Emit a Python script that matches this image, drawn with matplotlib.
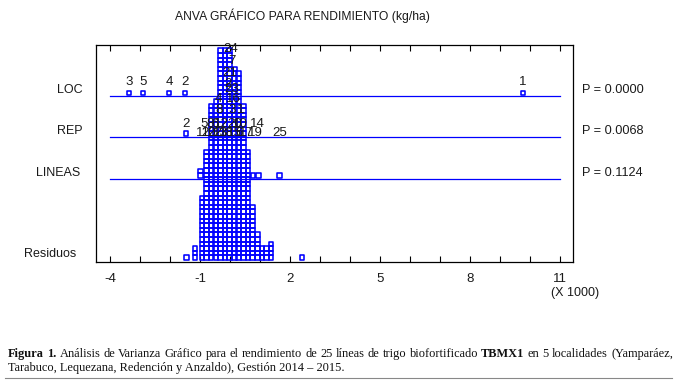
import numpy as np
import matplotlib
matplotlib.use("Agg")
import matplotlib.pyplot as plt
from matplotlib.lines import Line2D

plt.rcParams['font.family'] = ['Liberation Sans', 'DejaVu Sans']
plt.rcParams['axes.unicode_minus'] = False

W, H = 677, 383
PITCH = 4.6          # lato di un quadratino in pixel
BLUE = '#0000ff'
TXT = '#1a1a1a'

# ---------------- dati ----------------
# residui: posizione colonna (x 1000 kg/ha) e numero di quadratini impilati
res_x = [-1.45, -1.17, -0.93, -0.78, -0.63, -0.47, -0.32, -0.17, -0.01, 0.14,
         0.29, 0.45, 0.60, 0.75, 0.91, 1.06, 1.21, 1.37, 2.40]
res_n = [1, 3, 14, 24, 34, 35, 46, 46, 46, 42, 41, 34, 24, 12, 6, 3, 3, 4, 1]

factors = ['LOC', 'REP', 'LINEAS']
p_values = ['P = 0.0000', 'P = 0.0068', 'P = 0.1124']

loc_x = [-3.37, -2.90, -2.03, -1.50, 9.77]
loc_lab = ['3', '5', '4', '2', '1']

rep_x = [-1.47]
rep_lab = ['2']

lin_x = [-0.98, 0.76, 0.94, 1.65]
lin_n = [2, 1, 1, 1]

# etichette sovrapposte nella colonna centrale (testo, x, riga)
mid_labels = [('24', 0.03, 45.9), ('7', 0.07, 43.3), ('21', 0.0, 40.7),
              ('2', -0.07, 38.3), ('23', 0.07, 37.2), ('4', -0.40, 35.0),
              ('16', 0.10, 35.0), ('8', -0.37, 32.6), ('3', 0.07, 32.6),
              ('1', 0.37, 32.6),
              ('5', -0.87, 29.6), ('8', -0.67, 29.6), ('6', -0.50, 29.6),
              ('12', -0.28, 29.6), ('20', 0.17, 29.6), ('10', 0.33, 29.6),
              ('14', 0.90, 29.6),
              ('11', -0.90, 27.6), ('20', -0.72, 27.6), ('22', -0.52, 27.6),
              ('13', -0.32, 27.6), ('18', -0.12, 27.6), ('15', 0.15, 27.6),
              ('6', 0.30, 27.6), ('17', 0.55, 27.6), ('19', 0.85, 27.6),
              ('25', 1.67, 27.6)]

x_ticks = np.arange(-4, 12, 1)
x_ticklabels = ['-4', '-1', '2', '5', '8', '11']

title = 'ANVA GRÁFICO PARA RENDIMIENTO (kg/ha)'
caption1 = [('Figura', True), ('1.', True)] + \
    [(w, False) for w in 'Análisis de Varianza Gráfico para el rendimiento de 25 líneas de trigo biofortificado'.split()] + \
    [('TBMX1', True)] + [(w, False) for w in 'en 5 localidades (Yamparáez,'.split()]
caption2 = 'Tarabuco, Lequezana, Redención y Anzaldo), Gestión 2014 – 2015.'

# ---------------- figura ----------------
fig = plt.figure(figsize=(W / 100, H / 100), dpi=100)
ax = fig.add_axes([96 / W, 1 - 262 / H, 477 / W, 217 / H])
ax.set_xlim(-4.467, 11.433)
ax.set_ylim(-0.43, -0.43 + 217 / PITCH)

line_y = [35.65, 26.74, 17.61]


def stack(xs, ns, base):
    px, py = [], []
    for x, n in zip(xs, ns):
        for k in range(n):
            px.append(x)
            py.append(base + k + 0.5)
    ax.scatter(px, py, marker='s', s=(PITCH * 0.72) ** 2, facecolors='none',
               edgecolors=BLUE, linewidths=1.15, zorder=3)


# righe dei fattori
for yl in line_y:
    ax.plot([-4, 11], [yl, yl], color=BLUE, lw=0.9, zorder=2)

stack(res_x, res_n, 0)
stack(loc_x, [1] * len(loc_x), line_y[0] + 0.2)
stack(rep_x, [1] * len(rep_x), line_y[1] + 0.2)
stack(lin_x, lin_n, line_y[2] + 0.2)

for x, lab in zip(loc_x, loc_lab):
    ax.text(x, line_y[0] + 3.0, lab, ha='center', va='center', fontsize=9.5, color=TXT, zorder=4)
for x, lab in zip(rep_x, rep_lab):
    ax.text(x, line_y[1] + 2.9, lab, ha='center', va='center', fontsize=9.5, color=TXT, zorder=4)
for lab, x, y in mid_labels:
    ax.text(x, y, lab, ha='center', va='center', fontsize=9.5, color=TXT, zorder=4)

# nomi dei fattori e valori P
yt = ax.get_yaxis_transform()
name_x = [-0.027, -0.027, -0.034]
for name, yl, nx, p in zip(factors, line_y, name_x, p_values):
    ax.text(nx, yl + 1.3, name, transform=yt, ha='right', va='center', fontsize=9, color=TXT)
    ax.text(1.019, yl + 1.3, p, transform=yt, ha='left', va='center', fontsize=9.2, color=TXT)
ax.text(-0.042, 1.3, 'Residuos', transform=yt, ha='right', va='center', fontsize=9, color=TXT)

# assi
ax.set_xticks(x_ticks)
ax.set_xticklabels([str(t) if t in (-4, -1, 2, 5, 8, 11) else '' for t in x_ticks])
ax.set_yticks([])
ax.tick_params(axis='x', direction='in', length=4, width=0.8, top=True,
               pad=8, labelsize=9.5, labelcolor=TXT)
for sp in ax.spines.values():
    sp.set_linewidth(0.9)
    sp.set_color('black')

fig.text(575 / W, 1 - 293 / H, '(X 1000)', ha='center', va='center', fontsize=9, color=TXT)
fig.text(302 / W, 1 - 16 / H, title, ha='center', va='center', fontsize=8.7, color=TXT)

# didascalia giustificata
renderer = fig.canvas.get_renderer()
cap_font = dict(family=['Liberation Serif', 'DejaVu Serif'], fontsize=8.9, color='#111111')
texts = [fig.text(0, 1 - 357 / H, w, fontweight='bold' if b else 'normal', va='baseline', **cap_font)
         for w, b in caption1]
widths = [t.get_window_extent(renderer).width for t in texts]
x0, x1 = 8, 673
gap = max((x1 - x0 - sum(widths)) / (len(texts) - 1), 1.5)
xp = x0
for t, wd in zip(texts, widths):
    t.set_x(xp / W)
    xp += wd + gap
fig.text(x0 / W, 1 - 371 / H, caption2, va='baseline', **cap_font)
fig.add_artist(Line2D([5 / W, 672 / W], [1 - 378 / H] * 2, color='#888888', lw=0.8))

fig.savefig('out.png', dpi=100)
